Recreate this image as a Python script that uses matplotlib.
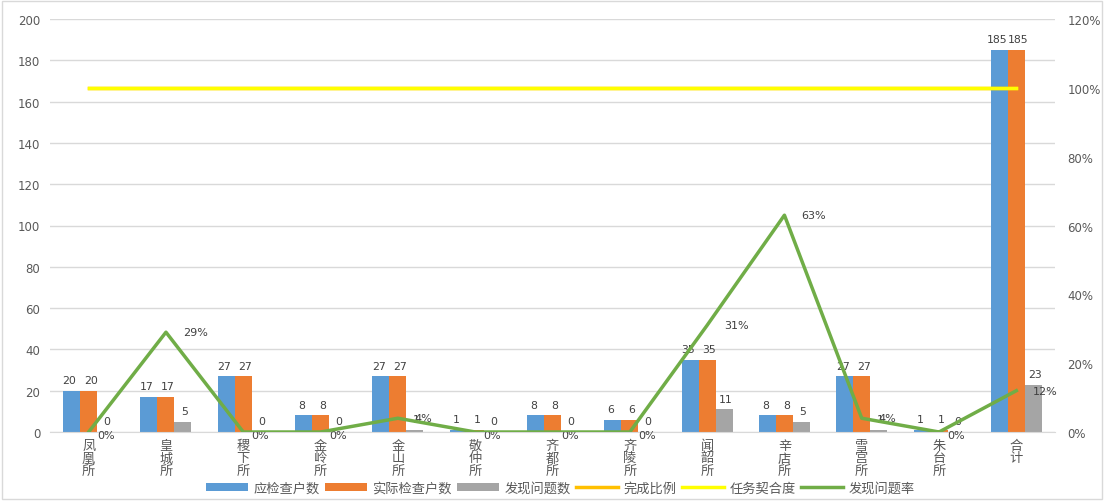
import matplotlib
matplotlib.use("Agg")
import matplotlib.pyplot as plt
import numpy as np
from matplotlib.patches import Rectangle

plt.rcParams['font.family'] = ['Noto Sans CJK SC', 'DejaVu Sans']

categories = ['凤凰所', '皇城所', '稷下所', '金岭所', '金山所', '敬仲所', '齐都所',
              '齐陵所', '闻韶所', '辛店所', '雪宫所', '朱台所', '合计']
should_check = [20, 17, 27, 8, 27, 1, 8, 6, 35, 8, 27, 1, 185]
actual_check = [20, 17, 27, 8, 27, 1, 8, 6, 35, 8, 27, 1, 185]
problems = [0, 5, 0, 0, 1, 0, 0, 0, 11, 5, 1, 0, 23]
completion = [100, 100, 100, 100, 100, 100, 100, 100, 100, 100, 100, 100, 100]
fit_degree = [100, 100, 100, 100, 100, 100, 100, 100, 100, 100, 100, 100, 100]
problem_rate = [0, 29, 0, 0, 4, 0, 0, 0, 31, 63, 4, 0, 12]

c_blue = '#5B9BD5'
c_orange = '#ED7D31'
c_gray = '#A5A5A5'
c_gold = '#FFC000'
c_yellow = '#FFFF00'
c_green = '#70AD47'
txt = '#404040'
tick_c = '#595959'

fig = plt.figure(figsize=(11.04, 5.02), dpi=100)
fig.patches.append(Rectangle((0.002, 0.004), 0.996, 0.992, transform=fig.transFigure,
                             fill=False, edgecolor='#D9D9D9', linewidth=1))
ax = fig.add_axes([50/1104, 1 - 433/502, 1005/1104, 413/502])
ax2 = ax.twinx()

x = np.arange(len(categories))
w = 0.22
bars = [(should_check, c_blue, -w, '应检查户数', -1.5),
        (actual_check, c_orange, 0, '实际检查户数', 1.5),
        (problems, c_gray, w, '发现问题数', 1.0)]
handles = []
for vals, col, off, lab, nudge in bars:
    b = ax.bar(x + off, vals, width=w, color=col, label=lab, zorder=2)
    handles.append(b)
    for xi, v in zip(x + off, vals):
        ax.annotate(str(v), (xi, v), xytext=(nudge, 4), textcoords='offset points',
                    ha='center', va='bottom', fontsize=7.8,
                    color=txt, family='DejaVu Sans', zorder=5)

ax.set_xlim(-0.5, len(categories) - 0.5)
ax.set_ylim(0, 200)
ax.set_yticks(range(0, 201, 20))
ax.yaxis.grid(True, color='#D9D9D9', linewidth=1, zorder=0)
ax.set_axisbelow(True)
ax.set_xticks(x)
ax.set_xticklabels(['\n'.join(c) for c in categories], fontsize=9.5, color=tick_c,
                   linespacing=0.95)
ax.tick_params(axis='x', length=0, pad=5)
ax.tick_params(axis='y', length=0, labelsize=8.5, labelcolor=tick_c, pad=7)
for lbl in ax.get_yticklabels():
    lbl.set_family('DejaVu Sans')
for s in ['top', 'right', 'left']:
    ax.spines[s].set_visible(False)
ax.spines['bottom'].set_color('#D9D9D9')
for s in ax2.spines.values():
    s.set_visible(False)

l1, = ax2.plot(x, completion, color=c_gold, linewidth=2.5, label='完成比例', zorder=3)
l2, = ax2.plot(x, fit_degree, color=c_yellow, linewidth=2.5, label='任务契合度', zorder=4)
l3, = ax2.plot(x, problem_rate, color=c_green, linewidth=2.5, label='发现问题率', zorder=5)
for xi, v in zip(x, problem_rate):
    off = (12, 0) if v > 0 else (6, -2)
    ax2.annotate(f'{v}%', (xi, v), xytext=off, textcoords='offset points',
                 ha='left', va='center', fontsize=8, color=txt, family='DejaVu Sans')
ax2.set_ylim(0, 120)
ax2.set_yticks(range(0, 121, 20))
ax2.set_yticklabels([f'{t}%' for t in range(0, 121, 20)], family='DejaVu Sans')
ax2.tick_params(axis='y', length=0, labelsize=8.5, labelcolor=tick_c, pad=9)

leg = fig.legend(handles + [l1, l2, l3],
                 ['应检查户数', '实际检查户数', '发现问题数', '完成比例', '任务契合度', '发现问题率'],
                 loc='center', bbox_to_anchor=(560/1104, 1 - 489/502), ncol=6,
                 frameon=False, fontsize=9.5, handlelength=3.2, handleheight=0.5,
                 columnspacing=0.4, handletextpad=0.4, labelcolor=tick_c)

fig.savefig('out.png', dpi=100)
